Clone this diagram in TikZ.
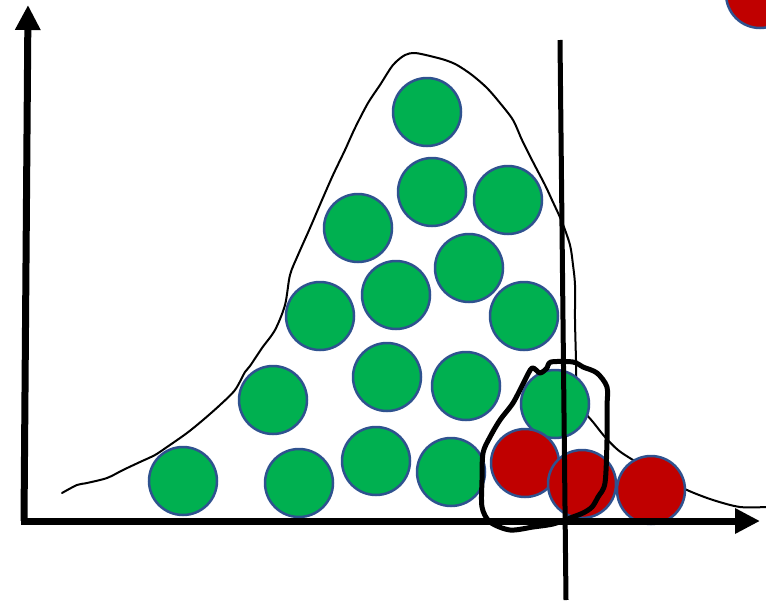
\documentclass[tikz,border=0pt]{standalone}
\usetikzlibrary{arrows.meta}
\definecolor{ballgreen}{HTML}{00B050}
\definecolor{ballred}{HTML}{C00000}
\definecolor{ballrim}{HTML}{2F528F}
\begin{document}
\begin{tikzpicture}[x=1pt,y=-1pt,
  ball/.style={circle,draw=ballrim,line width=2.5pt,minimum size=68pt,inner sep=0pt},
  gball/.style={ball,fill=ballgreen},
  rball/.style={ball,fill=ballred},
  axis/.style={line width=7pt,-{Triangle[length=25pt,width=24pt]}},
  curve/.style={line width=2pt,line join=round,line cap=round},
  lasso/.style={line width=5pt,line join=round}]
\useasboundingbox (0,0) rectangle (766,600);
\begin{scope}
\clip (0,0) rectangle (766,600);
% distribution curve
\draw[curve] plot[smooth,tension=0.5] coordinates {(62,493) (77,485) (87,483) (107,478) (123,470) (140,462) (155,455) (167,447) (187,433) (203,420) (220,405) (235,390) (245,372) (250,366) (262,348) (275,330) (285,305) (290,275) (298,255) (310,228) (322,200) (333,175) (345,150) (355,128) (368,103) (380,85) (393,65) (405,55) (415,53) (430,56) (445,60) (457,65) (472,75) (487,88) (500,103) (513,120) (522,140) (533,162) (545,185) (552,200) (562,222) (570,245) (573,265) (575,285) (575,320) (576,360) (577,395) (583,410) (593,422) (605,437) (618,450) (633,460) (660,476) (687,490) (713,500) (740,507) (766,507)};
% green balls
\node[gball] (g1) at (427,112) {};
\node[gball] (g2) at (432,192) {};
\node[gball] (g3) at (508,200) {};
\node[gball] (g4) at (358,228) {};
\node[gball] (g5) at (469,268) {};
\node[gball] (g6) at (396,295) {};
\node[gball] (g7) at (320,316) {};
\node[gball] (g8) at (524,316) {};
\node[gball] (g9) at (387,377) {};
\node[gball] (g10) at (466,386) {};
\node[gball] (g11) at (273,400) {};
\node[gball] (g12) at (555,404) {};
\node[gball] (g13) at (183,481) {};
\node[gball] (g14) at (299,483) {};
\node[gball] (g15) at (376,461) {};
\node[gball] (g16) at (451,472) {};
% red balls
\node[rball] (r1) at (525,463) {};
\node[rball] (r2) at (582,484) {};
\node[rball] (r3) at (651,490) {};
\node[rball] (r4) at (760,-6) {};
% axes
\coordinate (o) at (24,521);
\coordinate (ytip) at (28,5);
\coordinate (xtip) at (760,521);
\draw[axis] (o) -- (ytip);
\draw[axis] ([xshift=-3pt]o) -- (xtip);
% threshold line
\coordinate (t1) at (560,40);
\coordinate (t2) at (566,600);
\draw[line width=5pt] (t1) -- (t2);
% lasso
\draw[lasso] plot[smooth cycle,tension=0.5] coordinates {(532,368) (540,373) (547,368) (551,362) (573,362) (583,367) (597,373) (607,387) (607,407) (607,440) (605,483) (598,497) (592,507) (583,513) (570,518) (553,524) (533,527) (510,530) (490,522) (482,507) (482,480) (483,453) (490,437) (500,420) (513,403) (524,382)};
\end{scope}
\end{tikzpicture}
\end{document}
